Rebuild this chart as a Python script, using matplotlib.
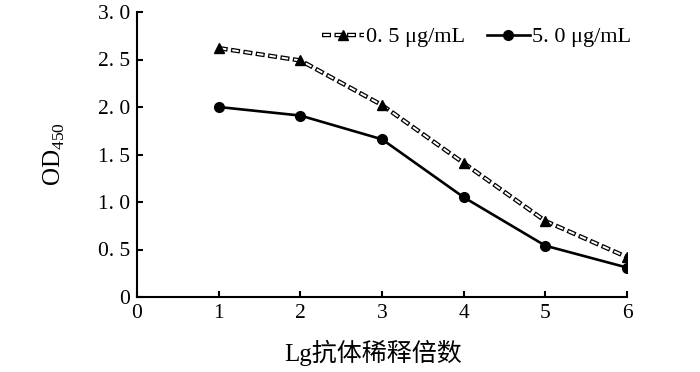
import matplotlib
matplotlib.use("Agg")
import matplotlib.pyplot as plt
from matplotlib.lines import Line2D
from matplotlib.legend_handler import HandlerTuple

# data
dilution = [1, 2, 3, 4, 5, 6]
od_low = [2.62, 2.49, 2.02, 1.41, 0.80, 0.42]    # 0.5 ug/mL
od_high = [2.00, 1.91, 1.66, 1.05, 0.54, 0.31]   # 5.0 ug/mL
labels = ["0. 5 \u03bcg/mL", "5. 0 \u03bcg/mL"]
x_ticks = [0, 1, 2, 3, 4, 5, 6]
y_ticks = [0, 0.5, 1.0, 1.5, 2.0, 2.5, 3.0]
y_ticklabels = ["0", "0. 5", "1. 0", "1. 5", "2. 0", "2. 5", "3. 0"]

plt.rcParams['font.family'] = ['Liberation Serif', 'Noto Sans CJK SC']
plt.rcParams['mathtext.fontset'] = 'custom'
plt.rcParams['mathtext.rm'] = 'Liberation Serif'
plt.rcParams['lines.scale_dashes'] = False

outer_style = dict(color='black', lw=3.2, ls=(0, (6.5, 2.5)), dash_capstyle='butt')
inner_style = dict(color='white', lw=1.4, ls=(8.1, (4.7, 4.3)), dash_capstyle='butt')

fig = plt.figure(figsize=(7, 3.72), dpi=100)
ax = fig.add_axes([137 / 700, 1 - 297 / 372, 490 / 700, 285 / 372])

# hollow dashed line: black dashes with a thinner white dash inside
ax.plot(dilution, od_low, **outer_style)
ax.plot(dilution, od_low, **inner_style)
ax.plot(dilution, od_low, ls='none', marker='^', ms=7.5, color='black')
ax.plot(dilution, od_high, color='black', lw=1.9, marker='o', ms=7)

ax.set_xlim(0, 6)
ax.set_ylim(0, 3.0)
ax.set_xticks(x_ticks)
ax.set_yticks(y_ticks)
ax.set_yticklabels(y_ticklabels)
for s in ['top', 'right']:
    ax.spines[s].set_visible(False)
for s in ['left', 'bottom']:
    ax.spines[s].set_linewidth(1.5)
ax.tick_params(direction='in', length=4, width=1.5, labelsize=15.5, pad=5)

ax.set_xlabel("Lg抗体稀释倍数", fontsize=18, labelpad=12, x=0.482)
ax.set_ylabel(r"$\mathrm{OD}_{450}$", fontsize=18, labelpad=22)

h_outer = Line2D([], [], **outer_style)
h_inner = Line2D([], [], **inner_style)
h_tri = Line2D([], [], ls='none', marker='^', ms=7.5, color='black')
h_dot = Line2D([], [], color='black', lw=1.9, marker='o', ms=7)
ax.legend([(h_outer, h_inner, h_tri), h_dot], labels,
          handler_map={tuple: HandlerTuple(ndivide=1, pad=0)},
          loc='upper right', bbox_to_anchor=(1.035, 0.995), ncol=2, frameon=False,
          fontsize=16, handlelength=1.9, handletextpad=0.1, columnspacing=1.0,
          borderaxespad=0.2)

fig.savefig("out.png", dpi=100)
